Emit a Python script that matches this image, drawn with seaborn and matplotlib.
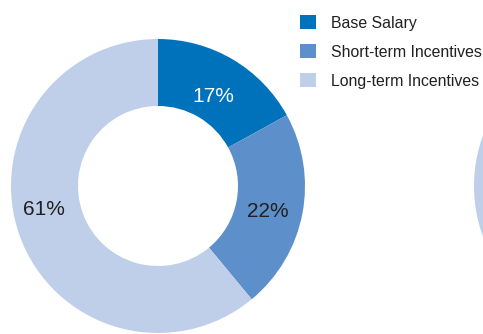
import matplotlib
matplotlib.use("Agg")
import matplotlib.pyplot as plt
import seaborn as sns
import numpy as np
from matplotlib.patches import Patch

categories = ["Base Salary", "Short-term Incentives", "Long-term Incentives"]
ceo_values = [17, 22, 61]
other_values = [20, 25, 55]  # second donut, mostly cut off at the right edge
pct_labels = ["17%", "22%", "61%"]
colors = ["#0072BC", "#5D8FCB", "#BFCFE9"]

sns.set_theme(style="white")
plt.rcParams["font.family"] = ["Liberation Sans", "DejaVu Sans"]

W, H = 483, 334
fig = plt.figure(figsize=(W / 100, H / 100), dpi=100)
ax = fig.add_axes([0, 0, 1, 1])
ax.set_xlim(0, W)
ax.set_ylim(0, H)
ax.set_aspect("equal")
ax.axis("off")

R = 147
width = 67
cx, cy = 158, H - 186
ax.pie(ceo_values, colors=colors, startangle=90, counterclock=False,
       radius=R, center=(cx, cy),
       wedgeprops=dict(width=width, linewidth=0))
ax.pie(other_values, colors=colors, startangle=90, counterclock=False,
       radius=R, center=(474 + R, cy),
       wedgeprops=dict(width=width, linewidth=0))
ax.set_xlim(0, W)
ax.set_ylim(0, H)

# percentage labels placed within each wedge
cum = np.cumsum([0] + ceo_values)
text_colors = ["white", "#231F20", "#231F20"]
label_r = [105, 113, 117]
angle_shift = [-1, -2.5, -8]
for i, lab in enumerate(pct_labels):
    mid = 90 - 3.6 * (cum[i] + cum[i + 1]) / 2 + angle_shift[i]
    rr = label_r[i]
    x = cx + rr * np.cos(np.radians(mid))
    y = cy + rr * np.sin(np.radians(mid))
    ax.text(x, y, lab, ha="center", va="center", fontsize=15, color=text_colors[i])

handles = [Patch(facecolor=c, edgecolor="none") for c in colors]
fig.legend(handles, categories, loc="upper left", bbox_to_anchor=(286 / W, 1 - 1 / H),
           frameon=False, fontsize=11.4, handlelength=1.0, handleheight=1.0,
           handletextpad=0.95, labelspacing=0.85, borderpad=0.4,
           labelcolor="#231F20")

fig.savefig("out.png", dpi=100)
